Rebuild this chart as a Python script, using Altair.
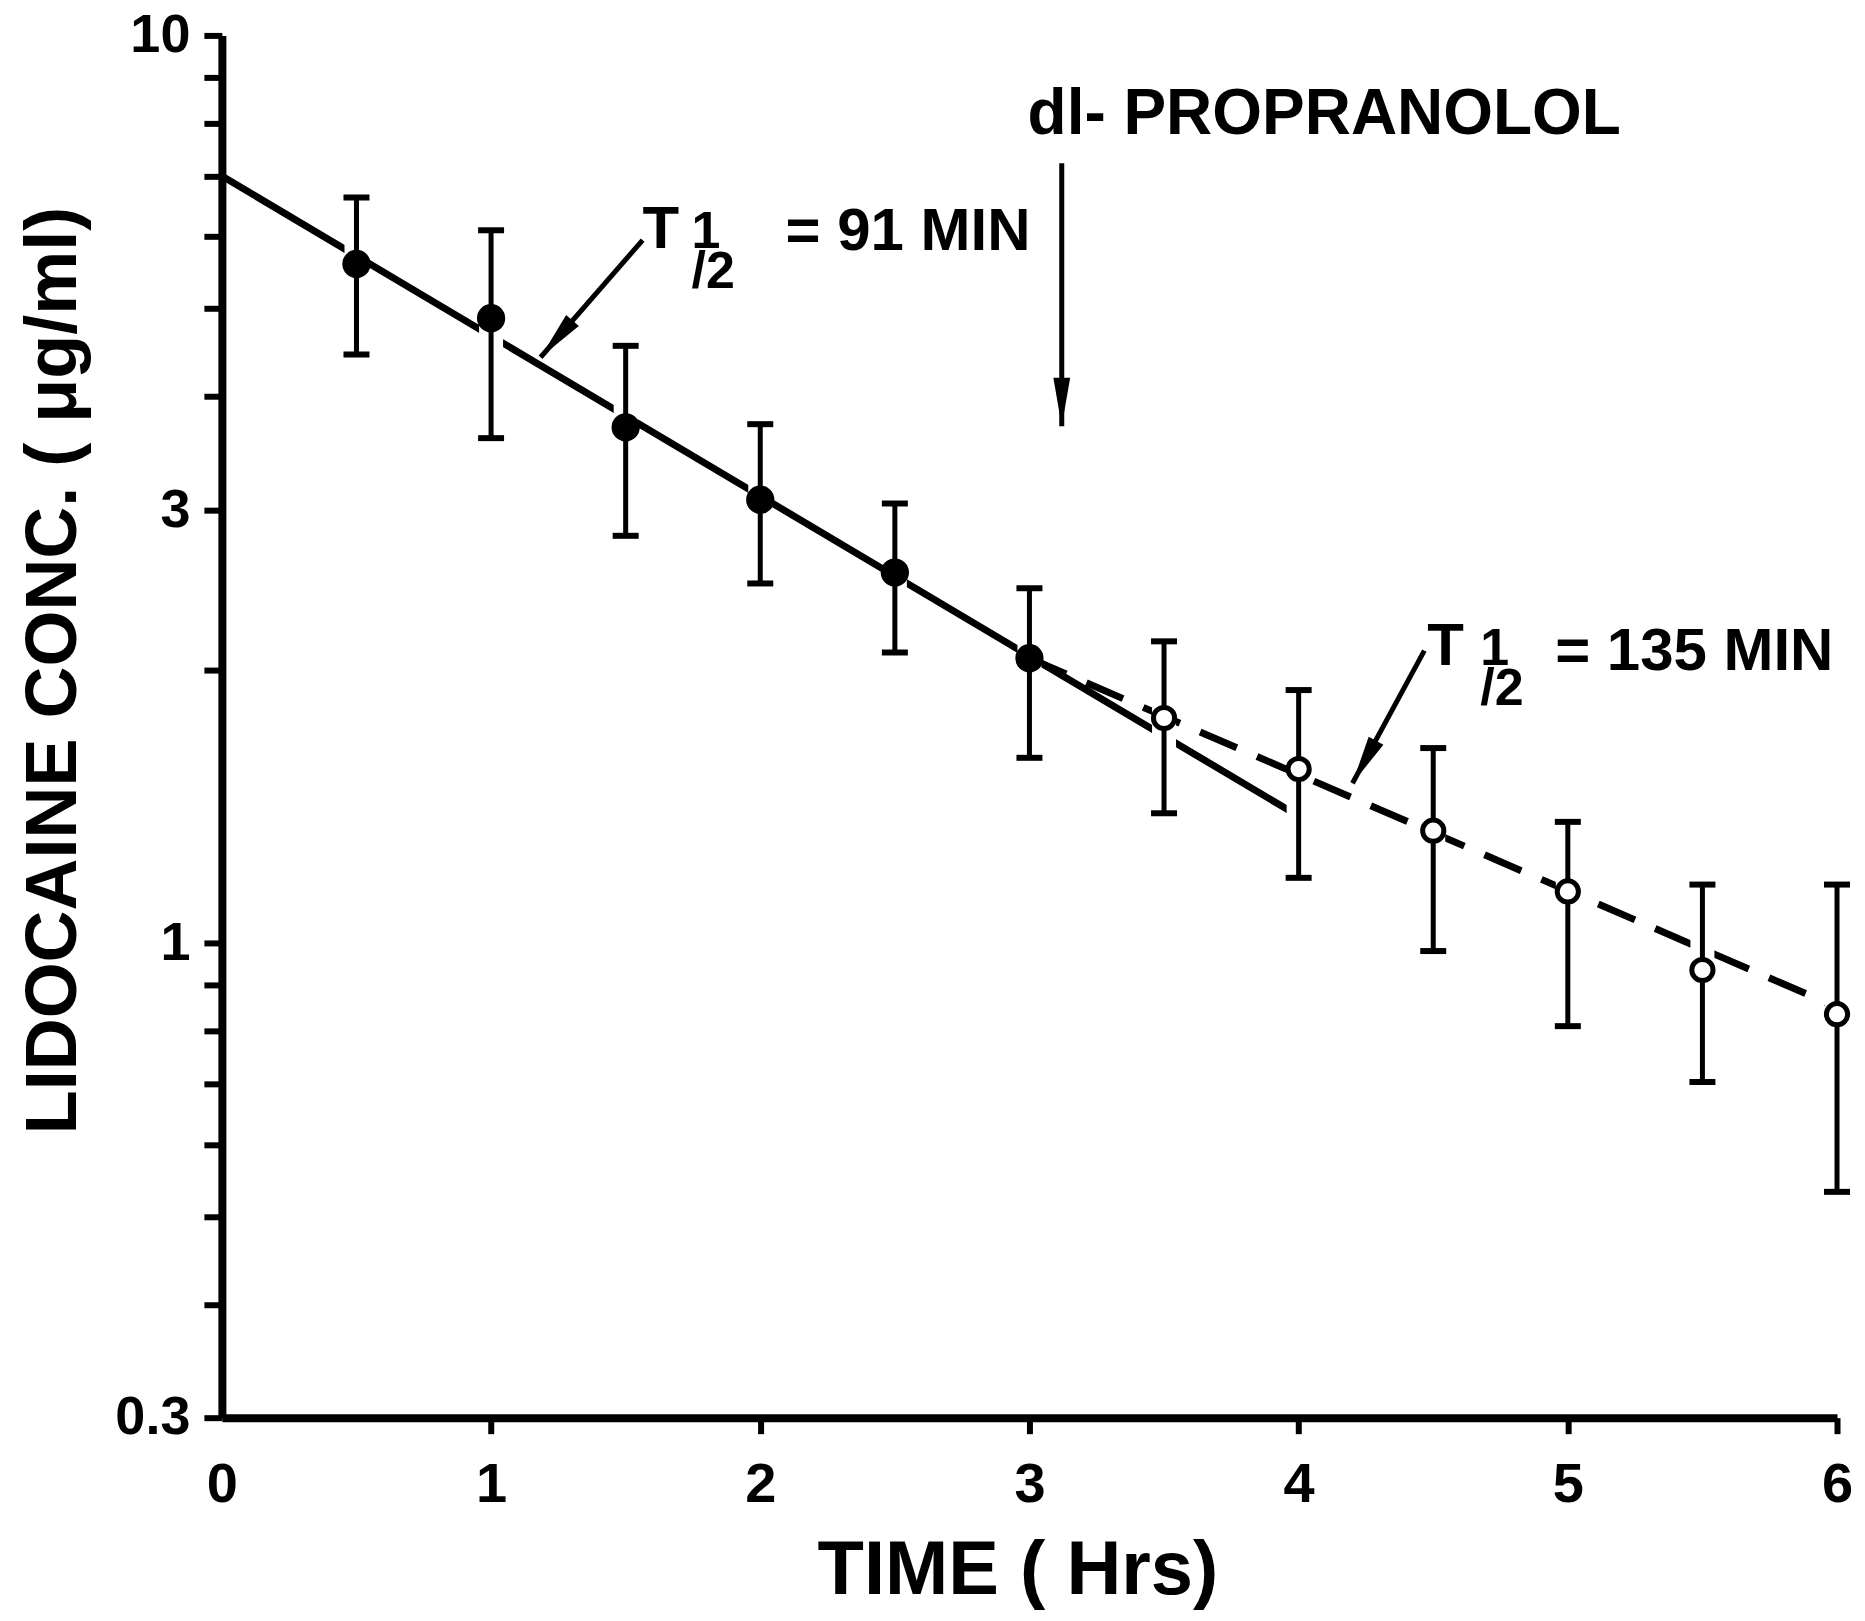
import altair as alt
import pandas as pd

# ---------------- data ----------------
filled_time = [0.5, 1.0, 1.5, 2.0, 2.5, 3.0]
filled_conc = [5.60, 4.88, 3.70, 3.08, 2.56, 2.06]
filled_low = [4.45, 3.60, 2.81, 2.49, 2.09, 1.60]
filled_high = [6.63, 6.10, 4.55, 3.73, 3.05, 2.46]

open_time = [3.5, 4.0, 4.5, 5.0, 5.5, 6.0]
open_conc = [1.77, 1.555, 1.33, 1.14, 0.934, 0.835]
open_low = [1.39, 1.18, 0.98, 0.81, 0.703, 0.532]
open_high = [2.15, 1.90, 1.64, 1.36, 1.16, 1.16]

fit91_time = [0.0, 4.0]
fit91_conc = [7.0, 1.38]
fit135_time = [3.0, 6.0]
fit135_conc = [2.06, 0.85]

x_ticks = [0, 1, 2, 3, 4, 5, 6]
y_ticks = [10, 9, 8, 7, 6, 5, 4, 3, 2, 1, 0.9, 0.8, 0.7, 0.6, 0.5, 0.4, 0.3]
y_labeled = [10, 3, 1, 0.3]

# annotation arrows (data units)
arrow_t = [1.563, 4.467, 3.12]
arrow_c = [5.95, 2.10, 7.23]
arrow_t2 = [1.184, 4.20, 3.12]
arrow_c2 = [4.42, 1.50, 3.71]
arrow_angle = [221, 209, 180]

# annotation texts (data units, left/baseline anchored)
main_text = ["T", "= 91 MIN", "T", "= 135 MIN"]
main_t = [1.563, 2.094, 4.478, 4.953]
main_c = [5.83, 5.80, 2.024, 2.0]

half_lines = ["1", "/2"]          # stacked "1/2" of T1/2
half_t = [1.745, 4.675]
half_c = [5.83, 2.024]

drug_text = ["dl- PROPRANOLOL"]
drug_t = [2.993]
drug_c = [7.78]

# ---------------- tables ----------------
filled = pd.DataFrame({"t": filled_time, "c": filled_conc, "low": filled_low, "high": filled_high})
opened = pd.DataFrame({"t": open_time, "c": open_conc, "low": open_low, "high": open_high})
bars = pd.concat([filled, opened], ignore_index=True)
caps = pd.DataFrame({"t": filled_time + open_time + filled_time + open_time,
                     "c": filled_low + open_low + filled_high + open_high})
fit91 = pd.DataFrame({"t": fit91_time, "c": fit91_conc})
fit135 = pd.DataFrame({"t": fit135_time, "c": fit135_conc})
arrows = pd.DataFrame({"t": arrow_t, "c": arrow_c, "t2": arrow_t2, "c2": arrow_c2, "ang": arrow_angle})
ann_main = pd.DataFrame({"t": main_t, "c": main_c, "txt": main_text})
ann_half = pd.DataFrame({"t": half_t, "c": half_c})
drug = pd.DataFrame({"t": drug_t, "c": drug_c, "txt": drug_text})

FONT = "Liberation Sans, Arial, Helvetica, sans-serif"

xscale = alt.Scale(domain=[0, 6], nice=False, zero=False)
yscale = alt.Scale(type="log", domain=[0.3, 10], nice=False)

labeled = ", ".join(str(v) for v in y_labeled)

xaxis = alt.Axis(
    values=x_ticks, format="d", title="TIME ( Hrs)", grid=False,
    domainWidth=8, domainColor="black", tickWidth=6, tickSize=16,
    tickColor={"condition": {"test": "datum.value === 0", "value": "transparent"}, "value": "black"},
    labelFont=FONT, labelFontSize=56, labelFontWeight="bold", labelColor="black",
    labelPadding=24, labelFlush=False, labelOverlap=False,
    titleFont=FONT, titleFontSize=76, titleFontWeight="bold", titleColor="black",
    titleX=796, titleY=176, titleAlign="center", titleBaseline="alphabetic",
)
yaxis = alt.Axis(
    values=y_ticks, format="~g", title="LIDOCAINE CONC. ( μg/ml)", grid=False,
    labelExpr=f"indexof([{labeled}], datum.value) >= 0 ? datum.label : ''",
    domainWidth=8, domainColor="black", tickWidth=6, tickSize=18, tickColor="black",
    labelFont=FONT, labelFontSize=54, labelFontWeight="bold", labelColor="black",
    labelPadding=14, labelOverlap=False, labelFlush=False,
    titleFont=FONT, titleFontSize=72, titleFontWeight="bold", titleColor="black",
    titleAngle=270, titleX=-146, titleY=635, titleAlign="center", titleBaseline="alphabetic",
)


def X(f="t"):
    return alt.X(f"{f}:Q", scale=xscale, axis=xaxis)


def Y(f="c"):
    return alt.Y(f"{f}:Q", scale=yscale, axis=yaxis)


line91 = alt.Chart(fit91).mark_line(color="black", strokeWidth=7, strokeCap="butt").encode(x=X(), y=Y())
line135 = alt.Chart(fit135).mark_line(color="black", strokeWidth=7, strokeCap="butt",
                                      strokeDash=[40, 22]).encode(x=X(), y=Y())

halo = alt.Chart(bars).mark_rule(color="white", strokeWidth=24).encode(
    x=X(), y=Y("low"), y2="high:Q")
errbars = alt.Chart(bars).mark_rule(color="black", strokeWidth=5).encode(
    x=X(), y=Y("low"), y2="high:Q")
capmarks = alt.Chart(caps).mark_tick(orient="horizontal", size=26, thickness=6,
                                     color="black", opacity=1).encode(x=X(), y=Y())

pts_filled = alt.Chart(filled).mark_point(shape="circle", filled=True, color="black",
                                          size=800, opacity=1).encode(x=X(), y=Y())
pts_open = alt.Chart(opened).mark_point(shape="circle", filled=True, fill="white",
                                        stroke="black", strokeWidth=5, size=450,
                                        opacity=1).encode(x=X(), y=Y())

arrow_lines = alt.Chart(arrows).mark_rule(color="black", strokeWidth=5).encode(
    x=X(), y=Y(), x2="t2:Q", y2="c2:Q")
arrow_heads = alt.Chart(arrows).mark_point(
    shape="M0,0L0.45,2.6L-0.45,2.6Z", filled=True, color="black", size=1400, opacity=1
).encode(x=X("t2"), y=Y("c2"), angle=alt.Angle("ang:Q", scale=None))

main_layer = alt.Chart(ann_main).mark_text(
    align="left", baseline="alphabetic", font=FONT, fontSize=60, fontWeight="bold", color="black"
).encode(x=X(), y=Y(), text="txt:N")
half_layer = alt.Chart(ann_half).mark_text(
    align="left", baseline="alphabetic", font=FONT, fontSize=52, fontWeight="bold",
    color="black", text=half_lines, lineHeight=40
).encode(x=X(), y=Y())
drug_layer = alt.Chart(drug).mark_text(
    align="left", baseline="alphabetic", font=FONT, fontSize=64, fontWeight="bold", color="black"
).encode(x=X(), y=Y(), text="txt:N")

chart = alt.layer(
    line91, line135, halo, errbars, capmarks, pts_filled, pts_open,
    arrow_lines, arrow_heads, main_layer, half_layer, drug_layer
).properties(
    width=1616, height=1383,
    autosize=alt.AutoSizeParams(type="none"),
    padding={"left": 214, "top": 27, "right": 20, "bottom": 195},
    background="white",
).configure_view(stroke=None)

chart.save("out.html", embed_options={"renderer": "svg", "actions": False})
